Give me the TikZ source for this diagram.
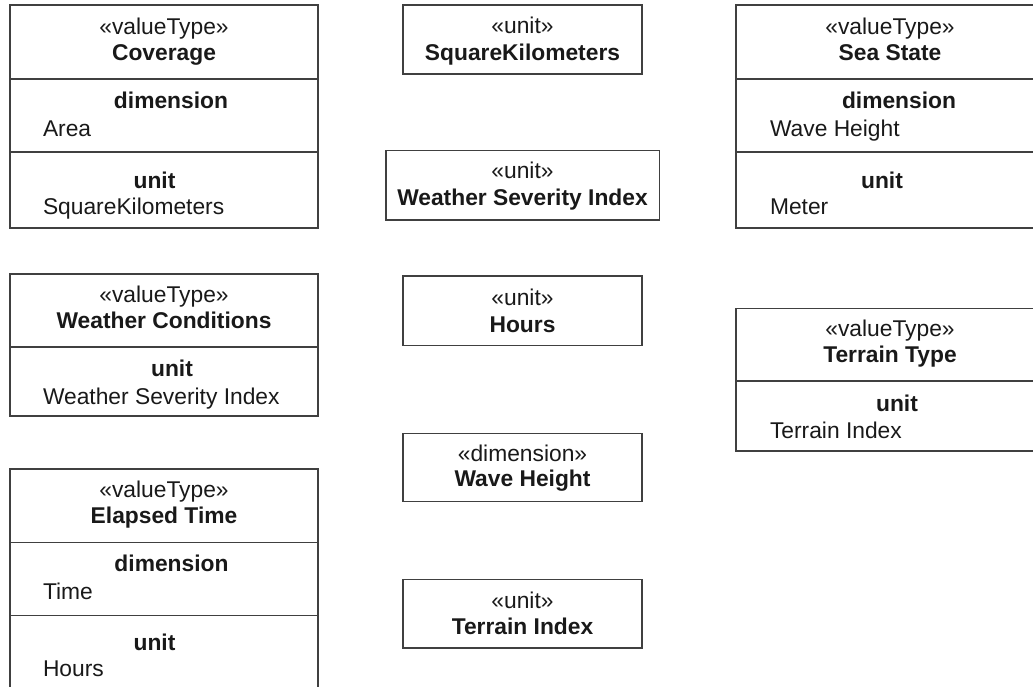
\documentclass[tikz,border=0pt]{standalone}
\usepackage{fontspec}
\setmainfont{Liberation Sans}
\tikzset{
  cell/.style={draw=black!75, line width=1.4pt, inner sep=0pt, outer sep=0pt, fill=none},
  txt/.style={inner sep=0pt, outer sep=0pt, text=black!90, font=\fontsize{22.8}{27}\selectfont, anchor=base, yshift=-1.8pt},
  bold/.style={txt, font=\fontsize{22.8}{27}\selectfont\bfseries},
  val/.style={txt, anchor=base west}
}
\newcommand\mycell[5]{\node[cell, minimum width={(#4-#2)*1pt}, minimum height={(#5-#3)*1pt}] (#1) at ({(#2+#4)/2},{(#3+#5)/2}) {};}
\begin{document}
\begin{tikzpicture}[x=1pt,y=-1pt]
\useasboundingbox (0,0) rectangle (1033,687);
\clip (0,0) rectangle (1033,687);
% Coverage
\mycell{cov1}{10}{5}{318}{79}
\mycell{cov2}{10}{79}{318}{152}
\mycell{cov3}{10}{152}{318}{228}
\node[txt] (covs) at (164,33) {«valueType»};
\node[bold] (covn) at (164,59) {Coverage};
\node[bold] (covd) at (171,107) {dimension};
\node[val] (cova) at (43,135) {Area};
\node[bold] (covu) at (154.5,187) {unit};
\node[val] (covv) at (43,213) {SquareKilometers};
% Weather Conditions
\mycell{wc1}{10}{274}{318}{347}
\mycell{wc2}{10}{347}{318}{416}
\node[txt] (wcs) at (164,301) {«valueType»};
\node[bold] (wcn) at (164,327) {Weather Conditions};
\node[bold] (wcu) at (172,375) {unit};
\node[val] (wcv) at (43,403) {Weather Severity Index};
% Elapsed Time
\mycell{el1}{10}{469}{318}{542.5}
\mycell{el2}{10}{542.5}{318}{615.5}
\mycell{el3}{10}{615.5}{318}{692}
\node[txt] (els) at (164,496) {«valueType»};
\node[bold] (eln) at (164,521.7) {Elapsed Time};
\node[bold] (eld) at (171.5,570) {dimension};
\node[val] (ela) at (43,597.3) {Time};
\node[bold] (elu) at (154.5,648.3) {unit};
\node[val] (elv) at (43,675) {Hours};
% middle column
\mycell{sqk}{403}{5}{642}{74}
\node[txt] (sqks) at (522.5,31.7) {«unit»};
\node[bold] (sqkn) at (522.5,58.3) {SquareKilometers};
\mycell{wsi}{386}{150.7}{659.3}{220}
\node[txt] (wsis) at (522.5,176.7) {«unit»};
\node[bold] (wsin) at (522.5,204) {Weather Severity Index};
\mycell{hrs}{403}{276}{642}{345.3}
\node[txt] (hrss) at (522.5,303.3) {«unit»};
\node[bold] (hrsn) at (522.5,330.7) {Hours};
\mycell{wh}{403}{433.3}{642}{501.7}
\node[txt] (whs) at (522.5,459.3) {«dimension»};
\node[bold] (whn) at (522.5,485) {Wave Height};
\mycell{ti}{403}{579.3}{642}{648}
\node[txt] (tis) at (522.5,606.7) {«unit»};
\node[bold] (tin) at (522.5,632.7) {Terrain Index};
% Sea State
\mycell{ss1}{736}{5}{1044}{79}
\mycell{ss2}{736}{79}{1044}{152}
\mycell{ss3}{736}{152}{1044}{228}
\node[txt] (sss) at (890,33) {«valueType»};
\node[bold] (ssn) at (890,59) {Sea State};
\node[bold] (ssd) at (899,107) {dimension};
\node[val] (ssa) at (770,135) {Wave Height};
\node[bold] (ssu) at (882,187) {unit};
\node[val] (ssv) at (770,213) {Meter};
% Terrain Type
\mycell{tt1}{736}{308.3}{1044}{381}
\mycell{tt2}{736}{381}{1044}{451}
\node[txt] (tts) at (890,335) {«valueType»};
\node[bold] (ttn) at (890,361) {Terrain Type};
\node[bold] (ttu) at (897,410) {unit};
\node[val] (ttv) at (770,436.7) {Terrain Index};
\end{tikzpicture}
\end{document}
